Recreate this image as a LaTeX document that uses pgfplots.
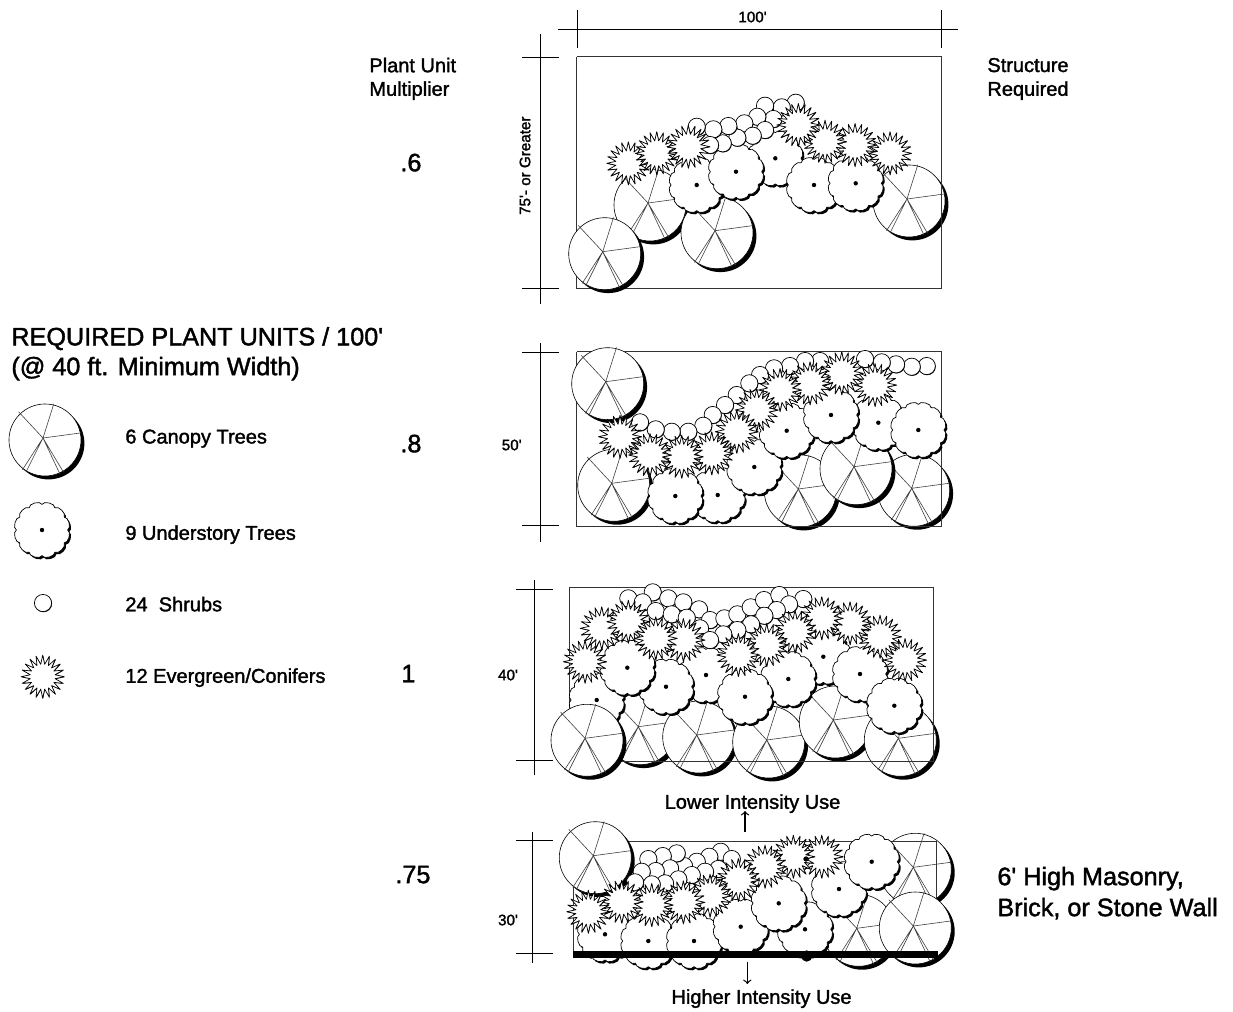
\documentclass[border=0pt]{standalone}
\usepackage{fontspec}
\usepackage{pgfplots}
\pgfplotsset{compat=1.18}
\setmainfont{Liberation Sans}
\newfontfamily\lab{Liberation Sans}[FakeBold=1.6]

% plant symbols, all sized from the mark size (the outer radius)
\newcommand{\scallop}[2]{%
  \pgfpathmoveto{\pgfpointadd{\pgfpoint{#1}{#2}}{\pgfpointpolar{0}{0.95\pgfplotmarksize}}}%
  \pgfplotsforeachungrouped \a in {0,30,...,330}{%
    \pgfpathcurveto
      {\pgfpointadd{\pgfpoint{#1}{#2}}{\pgfpointpolar{\a+3}{1.1\pgfplotmarksize}}}
      {\pgfpointadd{\pgfpoint{#1}{#2}}{\pgfpointpolar{\a+27}{1.1\pgfplotmarksize}}}
      {\pgfpointadd{\pgfpoint{#1}{#2}}{\pgfpointpolar{\a+30}{0.95\pgfplotmarksize}}}%
  }%
  \pgfpathclose}
\newcommand{\spikes}[2]{%
  \pgfpathmoveto{\pgfpointadd{\pgfpoint{#1}{#2}}{\pgfpointpolar{0}{\pgfplotmarksize}}}%
  \pgfplotsforeachungrouped \a in {0,18,...,342}{%
    \pgfpathlineto{\pgfpointadd{\pgfpoint{#1}{#2}}{\pgfpointpolar{\a+9}{0.58\pgfplotmarksize}}}%
    \pgfpathlineto{\pgfpointadd{\pgfpoint{#1}{#2}}{\pgfpointpolar{\a+18}{\pgfplotmarksize}}}%
  }%
  \pgfpathclose}
\newcommand{\spoke}[2]{%
  \pgfpathmoveto{\pgfpointorigin}%
  \pgfpathlineto{\pgfpoint{#1\pgfplotmarksize}{#2\pgfplotmarksize}}}

% the hub of a canopy tree sits up and left of the circle's centre
\pgfdeclareplotmark{canopy}{%
  \pgfsetfillcolor{black}\pgfsetstrokecolor{black}\pgfsetlinewidth{0.3pt}%
  \pgfpathcircle{\pgfpoint{0.15\pgfplotmarksize}{-0.15\pgfplotmarksize}}{\pgfplotmarksize}%
  \pgfusepathqfill
  \pgfsetfillcolor{white}%
  \pgfpathcircle{\pgfpoint{0.055\pgfplotmarksize}{-0.055\pgfplotmarksize}}{\pgfplotmarksize}%
  \pgfusepathqfillstroke
  \pgfsetstrokecolor{black!75}%
  \spoke{0.3}{0.95}\spoke{-0.68}{0.73}\spoke{1.04}{0.14}%
  \spoke{-0.57}{-0.88}\spoke{-0.47}{-0.94}\spoke{0.47}{-1.0}\spoke{0.57}{-0.95}%
  \pgfusepathqstroke}
\pgfdeclareplotmark{under}{%
  \pgfsetfillcolor{black}\pgfsetstrokecolor{black}\pgfsetlinewidth{0.35pt}%
  \scallop{0.06\pgfplotmarksize}{-0.07\pgfplotmarksize}%
  \pgfusepathqfill
  \pgfsetfillcolor{white}%
  \scallop{0pt}{0pt}%
  \pgfusepathqfillstroke
  \pgfsetfillcolor{black}%
  \pgfpathcircle{\pgfpointorigin}{1.1pt}%
  \pgfusepathqfill}
\pgfdeclareplotmark{shrub}{%
  \pgfsetfillcolor{black}\pgfsetstrokecolor{black}\pgfsetlinewidth{0.35pt}%
  \pgfpathcircle{\pgfpoint{0.25pt}{-0.3pt}}{\pgfplotmarksize}%
  \pgfusepathqfill
  \pgfsetfillcolor{white}%
  \pgfpathcircle{\pgfpointorigin}{\pgfplotmarksize}%
  \pgfusepathqfillstroke}
\pgfdeclareplotmark{conifer}{%
  \pgfsetfillcolor{black}\pgfsetstrokecolor{black}\pgfsetlinewidth{0.35pt}\pgfsetroundjoin
  \spikes{0.2pt}{-0.2pt}%
  \pgfusepathqfill
  \pgfsetfillcolor{white}%
  \spikes{0pt}{0pt}%
  \pgfusepathqfillstroke}

\pgfplotsset{
  canopy/.style={only marks, mark=canopy, mark size=18pt},
  under/.style={only marks, mark=under, mark size=13.5pt},
  shrub/.style={only marks, mark=shrub, mark size=4.3pt},
  conifer/.style={only marks, mark=conifer, mark size=10.8pt},
  dim/.style={black, line width=0.4pt, unbounded coords=jump},
  frame/.style={black!80, line width=0.45pt},
}
\tikzset{
  small/.style={font=\lab\fontsize{7.6}{9}\selectfont, inner sep=0pt},
  mid/.style={font=\lab\fontsize{10}{12}\selectfont, inner sep=0pt, anchor=west, yshift=-0.8pt},
  big/.style={font=\lab\fontsize{12.6}{15}\selectfont, inner sep=0pt, anchor=west, yshift=-0.8pt},
}

\begin{document}
\begin{tikzpicture}
\begin{axis}[
    scale only axis, width=616.5pt, height=505.5pt,
    xmin=0, xmax=1233, ymin=0, ymax=1011, y dir=reverse,
    axis line style={draw=none}, ticks=none, clip=false, clip mode=individual]

% --- legend column
\addplot[canopy] coordinates {(43,438)};
\addplot[under] coordinates {(42,530)};
\addplot[shrub] coordinates {(43,603)};
\addplot[conifer] coordinates {(42.7,676.7)};

% --- panel 1, 75 ft
\addplot[dim] coordinates {(558,29.3)(958,29.3)(nan,nan)(577,10)(577,48)(nan,nan)(941,10)(941,48)
  (nan,nan)(540,34)(540,304)(nan,nan)(522,57)(559,57)(nan,nan)(522,288)(559,288)};
\addplot[canopy] coordinates {(648,203)(715,230.7)(907,199)};
\addplot[frame] coordinates {(576.7,56.7)(941,56.7)(941,288)(576.7,288)(576.7,56.7)};
\addplot[canopy] coordinates {(602.7,251.7)};
\addplot[under] coordinates {(775.3,158.3)(696.7,185)(736,171.7)(814,185)(855.7,183.3)};
\addplot[shrub] coordinates {(795.7,102.7)(781.7,107.3)(765,105.7)(773.3,119)(757.3,116.7)(765,130)(744.3,123.3)
  (752.7,135.7)(737.3,137.7)(728.3,126)(722.7,143.3)(713.3,129.3)(710,145)(696.7,126.7)};
\addplot[conifer] coordinates {(628.3,163.3)(656.7,153.3)(688.3,146.7)(890,153.3)(855,145)(825,141.7)(798.3,125)};

% --- panel 2, 50 ft
\addplot[dim] coordinates {(540.3,343)(540.3,541.7)(nan,nan)(522,352)(559,352)(nan,nan)(522,525)(559,525)};
\addplot[canopy] coordinates {(798.3,489)(911.7,488.3)(854,466.7)};
\addplot[frame] coordinates {(576.7,351.7)(941,351.7)(941,526.7)(576.7,526.7)(576.7,351.7)};
\addplot[canopy] coordinates {(605.7,381.7)(611.7,483.3)};
\addplot[under] coordinates {(717.7,495)(675.3,496)(754.3,467)(786.7,430.7)(878.3,422.7)(831,415)(918.3,430)};
\addplot[shrub] coordinates {(926.7,366)(911.7,366.7)(896,364.3)(881.7,362.3)(865,359)(820,361)(805,361)(790,366)
  (774,368.3)(760,375)(749.3,383.3)(736.7,395)(725,405)(712.7,415)(703.3,425.7)(688.3,431.7)(671.7,431.7)(655.7,429.3)(640,422.3)};
\addplot[conifer] coordinates {(875,385)(841.7,373.3)(810,383.3)(780,390)(756.7,410)(736.7,431.7)(711.7,453.3)(681.7,456.7)(650,455)(620,436.7)};

% --- panel 3, 40 ft
\addplot[dim] coordinates {(534.7,580)(534.7,775)(nan,nan)(516,589.3)(553,589.3)(nan,nan)(516,760.3)(553,760.3)};
\addplot[canopy] coordinates {(638.3,726.7)(696.7,735)(766.7,740)(833.3,720)(898.3,738.3)};
\addplot[frame] coordinates {(569.3,587.7)(933.3,587.7)(933.3,761.7)(569.3,761.7)(569.3,587.7)};
\addplot[under] coordinates {(596.7,700)};
\addplot[canopy] coordinates {(585,738.3)};
\addplot[under] coordinates {(706,675)(823.3,656.7)(666,686.7)(627.3,667.7)(788.3,679)(745,696.7)(860,674)(894.3,705.7)};
\addplot[shrub] coordinates {(628.3,598.3)(652.7,592.3)(642.7,602.3)(668.3,598.3)(683.3,602.3)(655.7,611)(671.7,614.3)
  (699,609.3)(710,620)(686.7,617.7)(700,628.3)(724.3,618.3)(737.3,614.3)(750.7,607.3)(764,600)(779.3,595)(803.3,599)
  (789,604.3)(776.7,610)(764.3,615.7)(751,624.3)(737.3,630)(723.3,634.3)(710,640)};
\addplot[conifer] coordinates {(905,660)(880,636.7)(850,623.3)(821.7,618.3)(795,631.7)(766.7,645)(738.3,655)
  (585,661.7)(601.7,628.3)(628.3,621.7)(683.3,640)(655.7,638.3)};

% --- panel 4, 30 ft with wall
\addplot[dim] coordinates {(532.7,831.7)(532.7,963.3)(nan,nan)(515.7,840.7)(553.3,840.7)(nan,nan)(515.7,953.3)(553.3,953.3)};
\addplot[canopy] coordinates {(913.3,867.3)(856.7,928.3)};
\addplot[frame] coordinates {(573.3,841.7)(936.7,841.7)(936.7,953.3)(573.3,953.3)(573.3,841.7)};
\addplot[canopy] coordinates {(913.3,926)(593.3,855.7)};
\addplot[under] coordinates {(605,934.3)(648.3,941)(694,941)(805,929.3)(740.7,926.7)(778.7,903.3)(839,889)(871.7,861.7)};
\addplot[shrub] coordinates {(720.7,851.7)(709.3,856.7)(731.7,859)(696.7,861.7)(684,866)(718.3,869)(705,871.7)(691.7,875)
  (676.7,853.3)(662.7,856)(648.3,859)(670,868.3)(655.7,871)(641.7,871.7)(678.3,879.3)(665,883.3)(651.7,884.3)(635,882.3)};
\addplot[conifer] coordinates {(821.7,856.7)(793.3,856.7)(765,866.7)(738.3,880)(710,895.7)(683.3,902.3)(651.7,905)(621.7,901.7)(588.3,911.7)};
\addplot[only marks, mark=*, mark size=1.1pt, black] coordinates {(806,859)};
\addplot[only marks, mark=*, mark size=2.6pt, black] coordinates {(806.7,956)};
\addplot[black, line width=3.3pt] coordinates {(573.3,954.3)(937.5,954.3)};
\addplot[black, line width=0.6pt, -to] coordinates {(745,831.7)(745,811)};
\addplot[black, line width=0.6pt, -to] coordinates {(747.3,961.7)(747.3,984)};

% --- text
\node[mid] at (axis cs:369,63.5) {Plant Unit};
\node[mid] at (axis cs:369,89) {Multiplier};
\node[mid] at (axis cs:987,63.5) {Structure};
\node[mid] at (axis cs:987,89) {Required};
\node[big] at (axis cs:11,337) {REQUIRED PLANT UNITS / 100'};
\node[big] at (axis cs:11,367) {(@ 40 ft. Minimum Width)};
\node[mid] at (axis cs:125,437) {6 Canopy Trees};
\node[mid] at (axis cs:125,533) {9 Understory Trees};
\node[mid] at (axis cs:125,602.5) {24\ \ Shrubs};
\node[mid] at (axis cs:125,676) {12 Evergreen/Conifers};
\node[big] at (axis cs:400,161) {.6};
\node[big] at (axis cs:400,442) {.8};
\node[big] at (axis cs:401,672) {1};
\node[big] at (axis cs:395,873) {.75};
\node[big] at (axis cs:997,877) {6' High Masonry,};
\node[big] at (axis cs:997,907) {Brick, or Stone Wall};
\node[mid, anchor=center] at (axis cs:752.5,802) {Lower Intensity Use};
\node[mid, anchor=center] at (axis cs:761.5,997) {Higher Intensity Use};
\node[small] at (axis cs:752.5,17) {100'};
\node[small, rotate=90] at (axis cs:525,165.7) {75'- or Greater};
\node[small] at (axis cs:511.7,445) {50'};
\node[small] at (axis cs:508,675) {40'};
\node[small] at (axis cs:508,920) {30'};
\end{axis}
\end{tikzpicture}
\end{document}
